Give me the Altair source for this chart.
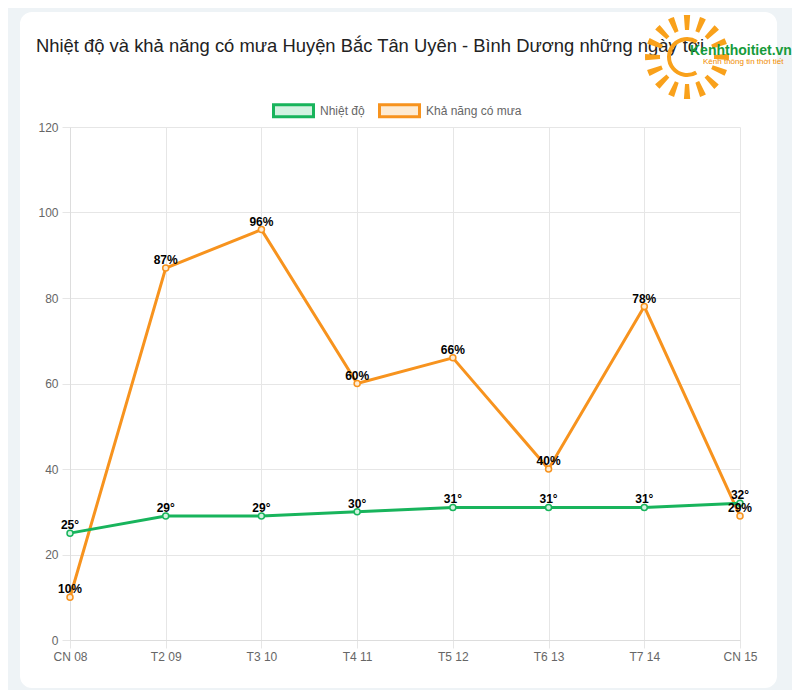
import altair as alt
import pandas as pd

days = ["CN 08", "T2 09", "T3 10", "T4 11", "T5 12", "T6 13", "T7 14", "CN 15"]
temps = [25, 29, 29, 30, 31, 31, 31, 32]
rain = [10, 87, 96, 60, 66, 40, 78, 29]
series_names = ["Nhiệt độ", "Khả năng có mưa"]
line_colors = ["#18b45c", "#f7931e"]
fill_colors = ["#d3f2e1", "#fdebd3"]
y_ticks = [0, 20, 40, 60, 80, 100, 120]
title_text = "Nhiệt độ và khả năng có mưa Huyện Bắc Tân Uyên - Bình Dương những ngày tới"
logo_name = "Kenhthoitiet.vn"
logo_tag = "Kênh thông tin thời tiết"
ray_angles = [0.0, 0.39, 0.79, 1.18, 1.57, 1.96, 2.36, 2.75, 3.14, 3.53, 3.93, 4.32, 4.71, 5.11, 5.5, 5.89]

FONT = "Liberation Sans"

rows = []
for d, t in zip(days, temps):
    rows.append({"day": d, "series": series_names[0], "value": t, "label": f"{t}°"})
for d, r in zip(days, rain):
    rows.append({"day": d, "series": series_names[1], "value": r, "label": f"{r}%"})
df = pd.DataFrame(rows)

leg = alt.Legend(
    orient="none", legendX=202, legendY=-38, direction="horizontal", title=None,
    symbolType="M-1,-0.3H1V0.3H-1Z", symbolSize=1600, symbolStrokeWidth=3,
    symbolOpacity=1, labelColor="#666666", labelFontSize=12, labelFont=FONT,
    labelOffset=5, columnPadding=8,
)
stroke_scale = alt.Scale(domain=series_names, range=line_colors)
fill_scale = alt.Scale(domain=series_names, range=fill_colors)

x_enc = alt.X(
    "day:N", sort=days, scale=alt.Scale(type="point", padding=0),
    axis=alt.Axis(title=None, labelAngle=0, labelPadding=3, grid=True, ticks=True),
)
y_enc = alt.Y(
    "value:Q", scale=alt.Scale(domain=[0, 120], nice=False, zero=True),
    axis=alt.Axis(title=None, values=y_ticks, labelPadding=4, grid=True, ticks=True),
)

base = alt.Chart(df)

# light frame around the white card (stroke only, so axes stay visible)
frame = alt.Chart(pd.DataFrame({"k": [0]})).mark_rect(
    fill="transparent", stroke="#eef3f6", strokeWidth=40, cornerRadius=32
).encode(x=alt.value(-70), x2=alt.value(727), y=alt.value(-135), y2=alt.value(581))

title = alt.Chart(pd.DataFrame({"t": [title_text]})).mark_text(
    align="left", baseline="alphabetic", font=FONT, fontSize=18.4, color="#222222"
).encode(x=alt.value(-34), y=alt.value(-75), text="t:N")

lines_rain = base.transform_filter(alt.datum.series == series_names[1]).mark_line(strokeWidth=3).encode(
    x=x_enc, y=y_enc, stroke=alt.Stroke("series:N", scale=stroke_scale, legend=leg)
)
lines_temp = base.transform_filter(alt.datum.series == series_names[0]).mark_line(strokeWidth=3).encode(
    x=x_enc, y=y_enc, stroke=alt.Stroke("series:N", scale=stroke_scale, legend=leg)
)
points = base.mark_point(filled=False, size=36, strokeWidth=1.5, opacity=1, shape="circle").encode(
    x=x_enc, y=y_enc,
    stroke=alt.Stroke("series:N", scale=stroke_scale, legend=leg),
    fill=alt.Fill("series:N", scale=fill_scale, legend=leg),
)
labels = base.mark_text(
    font=FONT, fontSize=12, fontWeight="bold", color="black", baseline="alphabetic", dy=-4
).encode(x=x_enc, y=y_enc, text="label:N")

# logo approximation
rays = alt.Chart(pd.DataFrame({"a": ray_angles})).transform_calculate(
    t0="datum.a - 0.075", t1="datum.a + 0.075"
).mark_arc(color="#f9a11b", radius=27, radius2=42).encode(
    theta=alt.Theta("t0:Q", scale=None, stack=None), theta2="t1:Q",
    x=alt.value(617), y=alt.value(-70),
)
crescent = alt.Chart(pd.DataFrame({"k": [0]})).mark_arc(
    color="#f9a11b", radius=20, radius2=16, theta=2.6, theta2=6.85
).encode(x=alt.value(617), y=alt.value(-70))
logo1 = alt.Chart(pd.DataFrame({"t": [logo_name]})).mark_text(
    align="left", baseline="alphabetic", font=FONT, fontSize=14, fontWeight="bold", color="#169b3b"
).encode(x=alt.value(620), y=alt.value(-72), text="t:N")
logo2 = alt.Chart(pd.DataFrame({"t": [logo_tag]})).mark_text(
    align="left", baseline="alphabetic", font=FONT, fontSize=8, color="#f08c00"
).encode(x=alt.value(633), y=alt.value(-63), text="t:N")

chart = alt.layer(
    frame, title, lines_rain, lines_temp, points, labels, rays, crescent, logo1, logo2
).properties(
    width=670, height=513, background="white",
    padding={"left": 62, "top": 119, "right": 52, "bottom": 50},
    autosize=alt.AutoSizeParams(type="none"),
).configure_view(stroke=None).configure_axis(
    gridColor="#e6e6e6", domainColor="#dddddd", tickColor="#e6e6e6", tickSize=8,
    labelColor="#666666", labelFontSize=12, labelFont=FONT,
)

chart.save("out.html", embed_options={"renderer": "svg", "actions": False})
